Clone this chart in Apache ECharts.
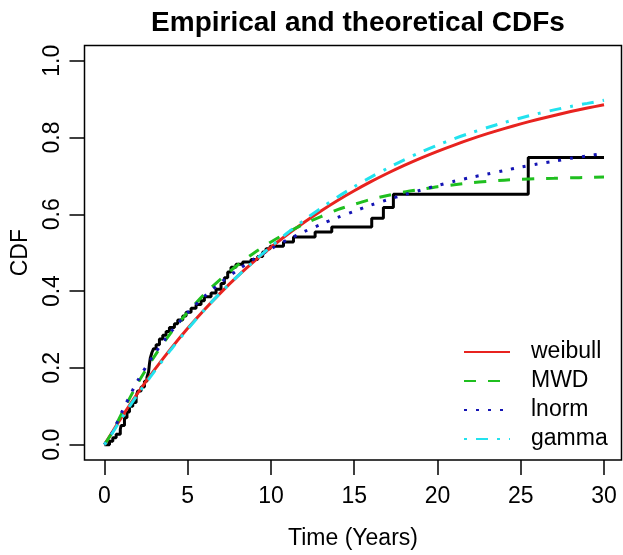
<!DOCTYPE html>
<html><head><meta charset="utf-8">
<script src="https://cdn.jsdelivr.net/npm/echarts@6/dist/echarts.min.js"></script>
<style>html,body{margin:0;padding:0;background:#fff}#c{width:623px;height:555px}</style>
</head><body><div id="c"></div>
<script>
const titleText = 'Empirical and theoretical CDFs';
const xName = 'Time (Years)';
const yName = 'CDF';
const xTicks = [0, 5, 10, 15, 20, 25, 30];
const yTicks = [0, 0.2, 0.4, 0.6, 0.8, 1.0];
const legendNames = ['weibull', 'MWD', 'lnorm', 'gamma'];

// empirical CDF: jump times and value after each jump
const ecdfTime = [0, 0.3, 0.5, 0.7, 0.95, 1.0, 1.2, 1.35, 1.5, 1.7, 1.9, 2.0, 2.2, 2.4, 2.55, 2.65, 2.7, 2.75, 2.85, 2.95, 3.1, 3.3, 3.5, 3.7, 3.9, 4.2, 4.4, 4.7, 4.9, 5.2, 5.5, 5.8, 6.0, 6.4, 6.7, 7.0, 7.2, 7.4, 7.6, 7.9, 8.3, 8.8, 9.2, 9.5, 9.7, 9.95, 10.75, 11.35, 12.65, 13.65, 16.05, 16.75, 17.35, 25.45, 30.0];
const ecdfValue = [0, 0.009, 0.018, 0.027, 0.04, 0.05, 0.07, 0.085, 0.1, 0.11, 0.125, 0.14, 0.15, 0.165, 0.175, 0.19, 0.21, 0.225, 0.24, 0.25, 0.26, 0.275, 0.285, 0.295, 0.305, 0.315, 0.325, 0.335, 0.345, 0.355, 0.365, 0.375, 0.385, 0.395, 0.405, 0.42, 0.435, 0.45, 0.462, 0.47, 0.476, 0.482, 0.49, 0.502, 0.51, 0.517, 0.528, 0.541, 0.554, 0.567, 0.59, 0.618, 0.652, 0.748, 0.748];

// fitted CDFs read at these times
const curveTime = [0, 0.5, 1, 2, 3, 4, 5, 6, 7, 8, 9, 10, 11, 12, 13, 14, 15, 16, 17, 18, 19, 20, 21, 22, 23, 24, 25, 26, 27, 28, 29, 30];
const weibull = [0, 0.035, 0.0697, 0.1345, 0.1947, 0.2508, 0.3030, 0.3515, 0.3967, 0.4388, 0.4779, 0.5142, 0.5481, 0.5795, 0.6088, 0.6361, 0.6614, 0.6850, 0.7069, 0.7274, 0.7464, 0.7640, 0.7804, 0.7957, 0.8100, 0.8232, 0.8355, 0.8470, 0.8576, 0.8676, 0.8768, 0.8854];
const mwd = [0, 0.035, 0.078, 0.160, 0.230, 0.292, 0.345, 0.392, 0.432, 0.468, 0.500, 0.528, 0.553, 0.575, 0.594, 0.612, 0.626, 0.639, 0.649, 0.658, 0.665, 0.672, 0.677, 0.682, 0.686, 0.689, 0.691, 0.693, 0.694, 0.695, 0.696, 0.697];
const lnorm = [0, 0.034, 0.081, 0.167, 0.236, 0.294, 0.344, 0.386, 0.423, 0.455, 0.484, 0.510, 0.534, 0.555, 0.574, 0.592, 0.608, 0.624, 0.638, 0.651, 0.663, 0.675, 0.686, 0.696, 0.705, 0.714, 0.723, 0.731, 0.738, 0.746, 0.752, 0.759];
const gamma = [0, 0.032, 0.067, 0.131, 0.191, 0.248, 0.301, 0.351, 0.397, 0.439, 0.479, 0.516, 0.552, 0.585, 0.616, 0.645, 0.672, 0.697, 0.720, 0.742, 0.762, 0.780, 0.797, 0.812, 0.826, 0.839, 0.851, 0.862, 0.872, 0.881, 0.889, 0.897];

const FONT = '"Liberation Sans", Arial, Helvetica, sans-serif';
const zip = (xs, ys) => xs.map((x, i) => [x, ys[i]]);
const curve = (name, ys, color, type) => ({
  name, type: 'line', data: zip(curveTime, ys), showSymbol: false, symbol: 'none',
  smooth: 0.3, lineStyle: { color, width: 3, type, cap: 'butt' }, itemStyle: { color }
});

const chart = echarts.init(document.getElementById('c'), null, { renderer: 'canvas' });
chart.setOption({
  animation: false,
  backgroundColor: '#fff',
  textStyle: { fontFamily: FONT },
  title: {
    text: titleText, left: 353, top: 4, textAlign: 'center',
    textStyle: { fontSize: 28, fontWeight: 'bold', color: '#000', fontFamily: FONT }
  },
  grid: {
    left: 84.5, right: 1.5, top: 45.4, bottom: 88.4, show: true,
    borderColor: '#000', borderWidth: 1.5, backgroundColor: 'transparent'
  },
  legend: {
    orient: 'vertical', left: 458, top: 334, itemWidth: 46, itemHeight: 14, itemGap: 3,
    data: legendNames,
    itemStyle: { opacity: 0 },
    textStyle: { fontSize: 23, color: '#000', fontFamily: FONT, padding: [0, 0, 0, 16], lineHeight: 26 }
  },
  xAxis: {
    type: 'value', min: -1.2, max: 31.05,
    axisLine: { show: false, onZero: false }, splitLine: { show: false },
    axisTick: { show: true, customValues: xTicks, length: 15, lineStyle: { color: '#000', width: 1.5 } },
    axisLabel: { customValues: xTicks, fontSize: 23, color: '#000', margin: 25, fontFamily: FONT },
    name: xName, nameLocation: 'middle', nameGap: 67,
    nameTextStyle: { fontSize: 23, color: '#000', fontFamily: FONT }
  },
  yAxis: {
    type: 'value', min: -0.04, max: 1.04,
    axisLine: { show: false, onZero: false }, splitLine: { show: false },
    axisTick: { show: true, customValues: yTicks, length: 15, lineStyle: { color: '#000', width: 1.5 } },
    axisLabel: { customValues: yTicks, rotate: 90, fontSize: 23, color: '#000', margin: 20, fontFamily: FONT,
      formatter: v => v.toFixed(1) },
    name: yName, nameLocation: 'middle', nameGap: 52, nameRotate: 90,
    nameTextStyle: { fontSize: 23, color: '#000', fontFamily: FONT }
  },
  series: [
    { name: 'empirical', type: 'line', step: 'end', data: zip(ecdfTime, ecdfValue), showSymbol: false, symbol: 'none',
      lineStyle: { color: '#000', width: 3 }, itemStyle: { color: '#000' } },
    curve('weibull', weibull, '#e8231f', 'solid'),
    curve('MWD', mwd, '#1fbf1f', [12, 12]),
    curve('lnorm', lnorm, '#1414b4', [3, 9]),
    curve('gamma', gamma, '#22e2ee', [3, 9, 12, 9])
  ]
});
</script>
</body></html>
